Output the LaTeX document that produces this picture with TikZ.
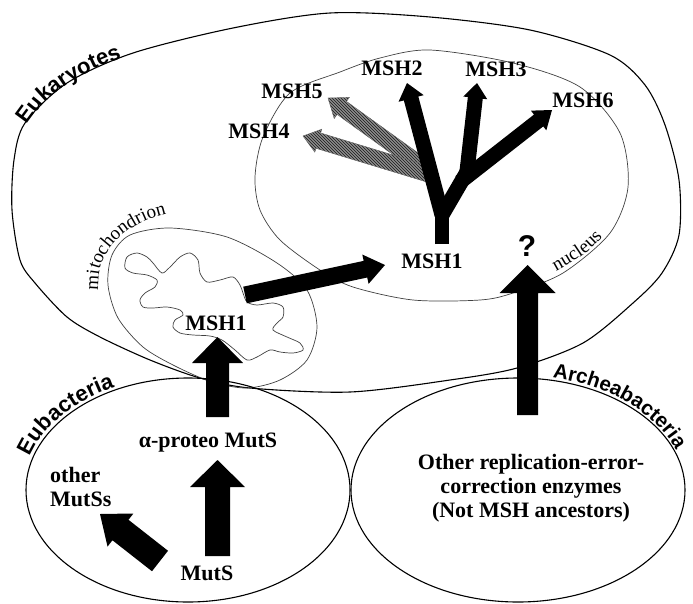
\documentclass[tikz,border=0pt]{standalone}
\usepackage{fontspec}
\setmainfont{Liberation Serif}
\newfontfamily\sflab{Liberation Sans}
\usetikzlibrary{calc,decorations.text,patterns}
% block arrow: [style]{tail}{tip}{shaft half width}{head half width}{head length}
\newcommand\blockarrow[6][]{%
  \path ($(#3)!#6!(#2)$) coordinate (bahead);
  \fill[#1] ($(#2)!#4!90:(#3)$) -- ($(bahead)!#4!90:(#3)$) -- ($(bahead)!#5!90:(#3)$)
    -- (#3) -- ($(bahead)!#5!-90:(#3)$) -- ($(bahead)!#4!-90:(#3)$) -- ($(#2)!#4!-90:(#3)$) -- cycle;}
\begin{document}
\begin{tikzpicture}[x=1pt,y=-1pt,
  lab/.style={font=\bfseries\fontsize{22}{24}\selectfont, inner sep=0pt, anchor=base},
  cellwall/.style={line width=1.1pt, black},
  membrane/.style={line width=0.7pt, black!75},
  blk/.style={fill=black},
  hatch/.style={pattern=north west lines, pattern color=black!90, preaction={fill=black!45}, draw=black!60, line width=0.4pt},
  branch/.style={line width=#1, black},
  curvtext/.style={decorate, decoration={text along path, text={#1}}}]
\useasboundingbox (0,0) rectangle (693,603);

% ---------- Eukaryote cell ----------
\draw[cellwall] plot[smooth cycle] coordinates {(330,13) (430,17) (530,30) (610,55) (645,85) (665,125) (679,180) (679,235) (662,273) (633,303) (583,343) (517,368) (450,380) (350,392) (250,388) (200,378) (150,360) (100,337) (67,317) (35,283) (20,260) (12,210) (14,160) (25,123) (67,83) (133,53) (233,28)};
\path[curvtext={|\sflab\bfseries\fontsize{22}{22}\selectfont|Eukaryotes}] plot[smooth] coordinates {(27,125) (45,102) (69,83) (101,66) (136,53) (183,40) (240,29)};

% nucleus
\draw[membrane] plot[smooth cycle] coordinates {(340,72) (380,58) (430,50) (513,63) (580,87) (620,133) (628,187) (610,233) (563,273) (513,293) (480,300) (413,300) (353,287) (320,270) (280,240) (260,210) (255,177) (263,137) (290,93)};
\path[curvtext={|\fontsize{19}{19}\selectfont|nucleus}] plot[smooth] coordinates {(556,271) (570,263) (588,251) (604,235) (615,216) (620,200)};

% mitochondrion
\draw[membrane] plot[smooth cycle] coordinates {(170,228) (227,237) (277,263) (307,290) (317,327) (307,360) (280,380) (247,388) (212,382) (175,366) (143,347) (118,318) (108,285) (112,255) (130,235)};
\draw[membrane] plot[smooth cycle] coordinates {(125,268) (127,257) (137,253) (147,257) (153,263) (162,273) (170,267) (180,257) (190,253) (198,260) (200,273) (207,282) (220,280) (233,277) (240,285) (243,293) (247,302) (257,305) (273,303) (283,307) (283,317) (277,323) (273,330) (287,337) (300,343) (303,350) (293,353) (280,352) (270,350) (257,357) (247,360) (235,350) (222,340) (210,336) (193,335) (180,333) (173,327) (175,320) (183,315) (180,310) (167,307) (153,308) (143,307) (140,300) (145,293) (155,287) (157,280) (147,275) (133,273)};
\path[curvtext={|\fontsize{19}{19}\selectfont|mitochondrion}] plot[smooth] coordinates {(98,290) (100,268) (110,248) (126,232) (148,220) (172,213) (200,210)};

% ---------- Eubacteria / Archeabacteria ----------
\draw[cellwall] (188,490) ellipse [x radius=162pt, y radius=112pt];
\path[curvtext={|\sflab\bfseries\fontsize{22}{22}\selectfont|Eubacteria}] (30.2,456.4) arc[start angle=163, end angle=60, x radius=165pt, y radius=115pt];
\draw[cellwall] (518,490) ellipse [x radius=167pt, y radius=112pt];
\path[curvtext={|\sflab\bfseries\fontsize{20.5}{20.5}\selectfont|Archeabacteria}] (552.5,377.5) arc[start angle=78, end angle=-30, x radius=169pt, y radius=115pt];

% ---------- labels ----------
\node[lab] (n1) at (432,268) {MSH1};
\node[lab] (m2) at (392,75) {MSH2};
\node[lab] (m3) at (496,76) {MSH3};
\node[lab] (m6) at (583,107) {MSH6};
\node[lab] (m5) at (292,98) {MSH5};
\node[lab] (m4) at (259,138) {MSH4};
\node[lab] (mm1) at (216,330) {MSH1};
\node[lab] (ap) at (208,447) {α-proteo MutS};
\node[lab] (muts) at (207,580) {MutS};
\node[lab, anchor=north west, align=left] (oth) at (50,467) {other\\MutSs};
\node[lab, anchor=north, align=center] (rep) at (531,454) {Other replication-error-\\correction enzymes\\(Not MSH ancestors)};
\node[font=\sflab\bfseries\fontsize{30}{30}\selectfont, inner sep=0pt] (q) at (527,246) {?};

% ---------- arrow end points ----------
\coordinate (a1t) at (217.5,556);  \coordinate (a1h) at (217.5,460);
\coordinate (a2t) at (217.5,417);  \coordinate (a2h) at (217.5,337);
\coordinate (a3t) at (160,561);    \coordinate (a3h) at (100,514);
\coordinate (a4t) at (245,295);    \coordinate (a4h) at (385,265);
\coordinate (a5t) at (527.5,415);  \coordinate (a5h) at (527.5,265);
\coordinate (trunkb) at (442,244); \coordinate (fork) at (442,206);
\coordinate (forkl) at (442,215);  \coordinate (split) at (467,172);
\coordinate (s3) at (466,180);     \coordinate (s6) at (460,182);
\coordinate (t2) at (407,83);      \coordinate (t3) at (477,83);  \coordinate (t6) at (552,110);
\coordinate (h5s) at (428,170);    \coordinate (t5) at (328,98);
\coordinate (h4s) at (428,174);    \coordinate (t4) at (303,136);

% ---------- arrows ----------
\blockarrow[blk]{a1t}{a1h}{12.5pt}{27.5pt}{27pt}
\blockarrow[blk]{a2t}{a2h}{11.5pt}{25.5pt}{26pt}
\blockarrow[blk]{a3t}{a3h}{13pt}{21pt}{26pt}
\blockarrow[blk]{a4t}{a4h}{8.5pt}{15pt}{20pt}
\blockarrow[blk]{a5t}{a5h}{10.5pt}{28pt}{28pt}

% hatched branches
\blockarrow[hatch]{h5s}{t5}{8pt}{13pt}{17pt}
\blockarrow[hatch]{h4s}{t4}{8pt}{12pt}{16pt}

% black tree
\draw[branch=14pt] (trunkb) -- (fork);
\draw[branch=15pt] (forkl) -- (split);
\blockarrow[blk]{forkl}{t2}{7.5pt}{13pt}{16pt}
\blockarrow[blk]{s3}{t3}{7.5pt}{12pt}{15pt}
\blockarrow[blk]{s6}{t6}{7.5pt}{12.5pt}{17pt}
\end{tikzpicture}
\end{document}
